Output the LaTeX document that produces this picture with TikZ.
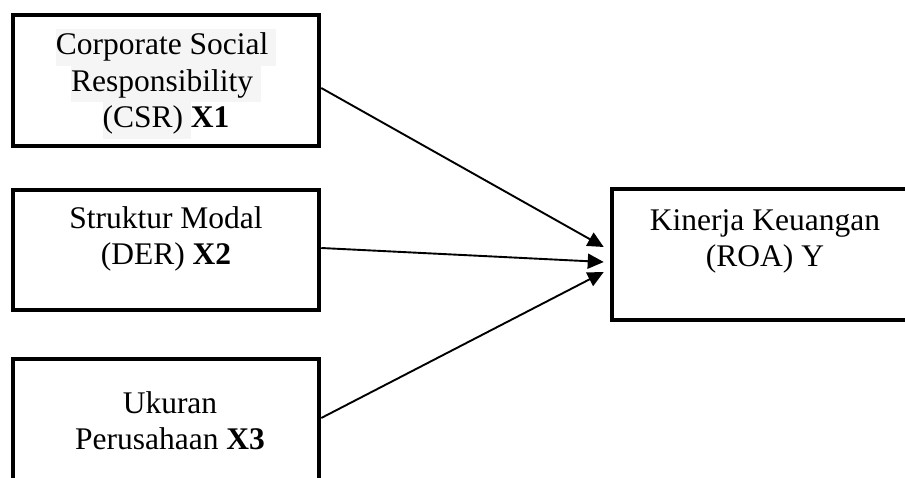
\documentclass[tikz,border=0pt]{standalone}
\usepackage{fontspec}
\setmainfont{Liberation Serif}
\usetikzlibrary{arrows.meta, positioning}
\definecolor{hlgray}{gray}{0.96}
\newcommand{\hlbox}[1]{{\setlength{\fboxsep}{0pt}\colorbox{hlgray}{\strut #1}}}

\begin{document}
\begin{tikzpicture}[x=1pt, y=-1pt,
	varbox/.style={draw, line width=4.5pt, minimum width=306pt, minimum height=131pt, inner sep=0pt},
	lbl/.style={align=center, font=\fontsize{31.5}{36.5}\selectfont, inner sep=0pt, anchor=base},
	link/.style={line width=1.9pt, -{Triangle[length=16pt, width=15pt]}}]
	\clip (0,0) rectangle (905,478);
	\node[varbox] (x1) at (166,80.5) {}; \node[varbox, minimum height=120pt] (x2) at (166,250) {};
	\node[varbox] (x3) at (166,424.5) {}; \node[varbox] (y) at (765,254.5) {};
	% texts (base = last line)
	\node[lbl] (x1t) at ([yshift=-115pt]x1.north) {\hlbox{Corporate Social\ }\\ \hlbox{Responsibility\ }\\ \hlbox{(CSR)\ }\textbf{X1}};
	\node[lbl] (x2t) at ([yshift=-77pt]x2.north) {Struktur Modal\\ (DER) \textbf{X2}};
	\node[lbl] (x3t) at ([xshift=4pt,yshift=-93pt]x3.north) {Ukuran\\ Perusahaan \textbf{X3}};
	\node[lbl] (yt) at ([yshift=-80pt]y.north) {Kinerja Keuangan\\ (ROA) Y};
	% arrows
	\draw[link] ([yshift=-7.5pt]x1.east) -- ([xshift=-6pt, yshift=7.5pt]y.west);
	\draw[link] ([yshift=2pt]x2.east) -- ([xshift=-6pt, yshift=-7.5pt]y.west);
	\draw[link] ([yshift=6.5pt]x3.east) -- ([xshift=-6pt, yshift=-17.5pt]y.west);
\end{tikzpicture}
\end{document}
